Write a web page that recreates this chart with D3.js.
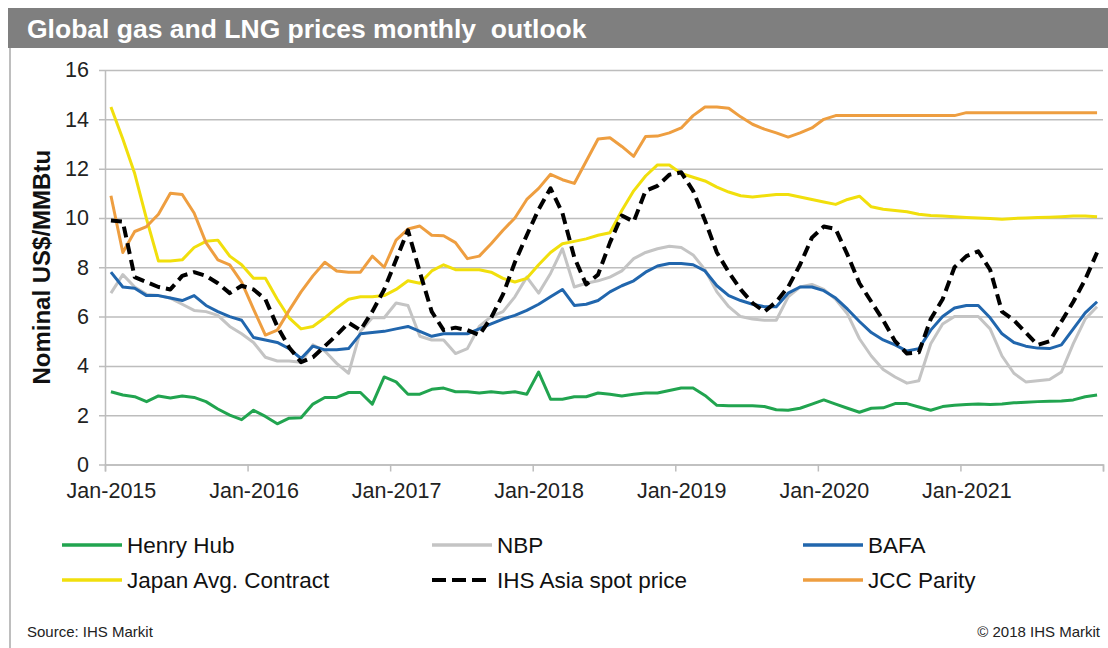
<!DOCTYPE html>
<html>
<head>
<meta charset="utf-8">
<script src="https://cdn.jsdelivr.net/npm/d3@7"></script>
<style>
  html, body { margin: 0; padding: 0; background: #fff; }
  svg { display: block; font-family: "Liberation Sans", Arial, Helvetica, sans-serif; }
</style>
</head>
<body>
<svg id="chart" width="1108" height="648"></svg>
<script>
// Monthly prices, Jan-2015 .. Dec-2021 (US$/MMBtu)
const tickLabels = ["Jan-2015", "Jan-2016", "Jan-2017", "Jan-2018", "Jan-2019", "Jan-2020", "Jan-2021"];
const yTicks = [0, 2, 4, 6, 8, 10, 12, 14, 16];

const henryHub = [
  2.95, 2.82, 2.75, 2.55, 2.78, 2.70, 2.78, 2.72, 2.55, 2.25, 2.00, 1.82,
  2.20, 1.95, 1.65, 1.88, 1.90, 2.45, 2.72, 2.72, 2.92, 2.92, 2.45, 3.55,
  3.35, 2.85, 2.85, 3.05, 3.10, 2.95, 2.95, 2.90, 2.95, 2.90, 2.95, 2.85,
  3.75, 2.65, 2.65, 2.75, 2.75, 2.90, 2.85, 2.78, 2.85, 2.90, 2.90, 3.00,
  3.10, 3.10, 2.80, 2.40, 2.38, 2.38, 2.38, 2.35, 2.22, 2.20, 2.28, 2.45,
  2.62, 2.45, 2.28, 2.12, 2.28, 2.30, 2.47, 2.47, 2.33, 2.20, 2.35, 2.40,
  2.43, 2.45, 2.43, 2.45, 2.50, 2.52, 2.55, 2.57, 2.58, 2.62, 2.75, 2.82
];
const nbp = [
  6.95, 7.70, 7.20, 6.90, 6.85, 6.75, 6.50, 6.25, 6.20, 6.05, 5.60, 5.30,
  4.95, 4.35, 4.20, 4.20, 4.15, 4.85, 4.60, 4.10, 3.70, 5.40, 5.95, 5.95,
  6.55, 6.45, 5.20, 5.05, 5.05, 4.50, 4.70, 5.60, 6.00, 6.20, 6.80, 7.60,
  6.95, 7.75, 8.75, 7.20, 7.35, 7.45, 7.60, 7.85, 8.35, 8.60, 8.75, 8.85,
  8.80, 8.50, 7.90, 7.00, 6.40, 6.00, 5.90, 5.85, 5.85, 6.80, 7.20, 7.30,
  7.10, 6.70, 6.10, 5.10, 4.40, 3.85, 3.55, 3.30, 3.40, 4.90, 5.70, 6.00,
  6.00, 6.00, 5.50, 4.40, 3.70, 3.35, 3.40, 3.45, 3.75, 4.90, 5.90, 6.40
];
const bafa = [
  7.80, 7.20, 7.15, 6.85, 6.85, 6.75, 6.65, 6.85, 6.45, 6.20, 6.00, 5.85,
  5.15, 5.05, 4.95, 4.70, 4.30, 4.80, 4.65, 4.65, 4.70, 5.30, 5.35, 5.40,
  5.50, 5.60, 5.40, 5.20, 5.30, 5.30, 5.30, 5.50, 5.70, 5.90, 6.05, 6.25,
  6.50, 6.80, 7.10, 6.45, 6.50, 6.65, 7.00, 7.25, 7.45, 7.80, 8.05, 8.15,
  8.15, 8.10, 7.85, 7.25, 6.85, 6.65, 6.50, 6.40, 6.40, 6.95, 7.20, 7.20,
  7.05, 6.75, 6.30, 5.80, 5.35, 5.05, 4.85, 4.60, 4.70, 5.45, 6.00, 6.35,
  6.45, 6.45, 5.95, 5.30, 4.95, 4.80, 4.72, 4.70, 4.85, 5.50, 6.15, 6.60
];
const japanContract = [
  14.50, 13.20, 11.80, 9.95, 8.25, 8.25, 8.30, 8.80, 9.05, 9.10, 8.45, 8.10,
  7.55, 7.55, 6.70, 5.95, 5.50, 5.60, 5.95, 6.35, 6.70, 6.80, 6.80, 6.85,
  7.10, 7.45, 7.35, 7.85, 8.10, 7.90, 7.90, 7.90, 7.80, 7.55, 7.40, 7.55,
  8.10, 8.60, 8.95, 9.05, 9.15, 9.30, 9.40, 10.30, 11.10, 11.70, 12.15, 12.15,
  11.80, 11.65, 11.50, 11.25, 11.05, 10.90, 10.85, 10.90, 10.95, 10.95, 10.85, 10.75,
  10.65, 10.55, 10.75, 10.88, 10.45, 10.35, 10.30, 10.25, 10.15, 10.10, 10.08, 10.05,
  10.02, 10.00, 9.98, 9.95, 9.98, 10.00, 10.02, 10.03, 10.05, 10.08, 10.08, 10.05
];
const ihsAsiaSpot = [
  9.90, 9.85, 7.60, 7.40, 7.20, 7.10, 7.65, 7.80, 7.65, 7.35, 6.95, 7.25,
  7.10, 6.70, 5.60, 4.75, 4.15, 4.35, 4.80, 5.25, 5.75, 5.45, 6.20, 7.10,
  8.30, 9.50, 7.80, 6.20, 5.45, 5.55, 5.45, 5.25, 5.95, 6.90, 8.20, 9.30,
  10.35, 11.20, 10.20, 8.40, 7.30, 7.70, 9.00, 10.10, 9.85, 11.10, 11.30, 11.75,
  11.85, 11.10, 9.90, 8.60, 7.80, 7.10, 6.55, 6.20, 6.60, 7.20, 8.10, 9.20,
  9.65, 9.55, 8.50, 7.35, 6.60, 5.85, 5.00, 4.50, 4.55, 5.90, 6.70, 8.00,
  8.45, 8.65, 7.90, 6.20, 5.85, 5.35, 4.85, 5.00, 5.80, 6.60, 7.50, 8.60
];
const jccParity = [
  10.90, 8.60, 9.45, 9.65, 10.15, 11.00, 10.95, 10.20, 9.00, 8.30, 8.10, 7.40,
  6.30, 5.25, 5.45, 6.25, 7.00, 7.65, 8.20, 7.85, 7.80, 7.80, 8.45, 8.00,
  9.10, 9.55, 9.67, 9.30, 9.28, 9.00, 8.35, 8.45, 8.95, 9.50, 10.00, 10.75,
  11.20, 11.77, 11.55, 11.40, 12.30, 13.20, 13.25, 12.90, 12.50, 13.30, 13.32, 13.45,
  13.65, 14.15, 14.50, 14.50, 14.45, 14.10, 13.80, 13.60, 13.45, 13.28, 13.45, 13.65,
  14.00, 14.15, 14.15, 14.15, 14.15, 14.15, 14.15, 14.15, 14.15, 14.15, 14.15, 14.15,
  14.27, 14.27, 14.27, 14.27, 14.27, 14.27, 14.27, 14.27, 14.27, 14.27, 14.27, 14.27
];

const seriesNames = ["Henry Hub", "NBP", "BAFA", "Japan Avg. Contract", "IHS Asia spot price", "JCC Parity"];
const seriesValues = [henryHub, nbp, bafa, japanContract, ihsAsiaSpot, jccParity];
const seriesColors = ["#21a44f", "#c4c4c4", "#2166ad", "#f1df0c", "#000000", "#ee9e40"];

const svg = d3.select("#chart");
const gridColor = "#bdbdbd";

// title banner and left frame rule
svg.append("rect")
  .attr("x", 8).attr("y", 8).attr("width", 1100).attr("height", 40)
  .attr("fill", "#7f7f7f");
svg.append("text")
  .attr("x", 27).attr("y", 38)
  .attr("fill", "#ffffff")
  .attr("font-size", 26.5).attr("font-weight", "bold")
  .attr("xml:space", "preserve")
  .text("Global gas and LNG prices monthly  outlook");
svg.append("line")
  .attr("x1", 10).attr("x2", 10).attr("y1", 48).attr("y2", 648)
  .attr("stroke", "#a8a8a8").attr("stroke-width", 1.5);

// plot area
const plot = { left: 105, right: 1103, top: 70, bottom: 464.5 };
const nMonths = henryHub.length;
const x = d3.scaleLinear().domain([0, nMonths]).range([plot.left, plot.right]);
const y = d3.scaleLinear().domain([0, 16]).range([plot.bottom, plot.top]);

// horizontal gridlines with y labels
const yAxis = svg.append("g")
  .attr("transform", `translate(${plot.left},0)`)
  .call(d3.axisLeft(y).tickValues(yTicks)
    .tickSizeInner(-(plot.right - plot.left)).tickSizeOuter(0).tickPadding(16));
yAxis.select(".domain").attr("stroke", gridColor).attr("stroke-width", 1.5);
yAxis.selectAll(".tick line")
  .attr("x1", -6)
  .attr("stroke", gridColor).attr("stroke-width", 1.5);
yAxis.selectAll(".tick text")
  .attr("font-size", 21.5).attr("fill", "#222")
  .attr("font-family", "Liberation Sans, Arial, sans-serif");

// x axis: year tick marks at category boundaries
const xMarks = svg.append("g")
  .attr("transform", `translate(0,${plot.bottom})`)
  .call(d3.axisBottom(x).tickValues(d3.range(0, nMonths + 1, 12))
    .tickSize(7).tickFormat(""));
xMarks.select(".domain").attr("stroke", gridColor).attr("stroke-width", 1.5);
xMarks.selectAll(".tick line").attr("stroke", gridColor).attr("stroke-width", 1.5);

// x labels centred on each January
const xLabels = svg.append("g")
  .attr("transform", `translate(0,${plot.bottom})`)
  .call(d3.axisBottom(x)
    .tickValues(tickLabels.map((_, k) => k * 12 + 0.5))
    .tickSize(0).tickPadding(18)
    .tickFormat((d, k) => tickLabels[k]));
xLabels.select(".domain").remove();
xLabels.selectAll(".tick text")
  .attr("font-size", 21.5).attr("fill", "#222")
  .attr("font-family", "Liberation Sans, Arial, sans-serif");

// y axis title
svg.append("text")
  .attr("transform", `translate(50,${(plot.top + plot.bottom) / 2}) rotate(-90)`)
  .attr("text-anchor", "middle")
  .attr("font-size", 24).attr("font-weight", "bold").attr("fill", "#111")
  .text("Nominal US$/MMBtu");

// series lines
const line = d3.line()
  .x((d, i) => x(i + 0.5))
  .y(d => y(d));
const drawOrder = [0, 1, 2, 3, 5, 4];
drawOrder.forEach(k => {
  const isDash = seriesNames[k] === "IHS Asia spot price";
  svg.append("path")
    .datum(seriesValues[k])
    .attr("d", line)
    .attr("fill", "none")
    .attr("stroke", seriesColors[k])
    .attr("stroke-width", isDash ? 4 : 3)
    .attr("stroke-dasharray", isDash ? "11,6" : null)
    .attr("stroke-linejoin", "round");
});

// legend: two rows of three
const legendCols = [62, 432, 803];
const legendRows = [545, 580];
const legend = svg.append("g");
seriesNames.forEach((name, k) => {
  const lx = legendCols[k % 3], ly = legendRows[Math.floor(k / 3)];
  const isDash = name === "IHS Asia spot price";
  legend.append("line")
    .attr("x1", lx).attr("x2", lx + 60).attr("y1", ly).attr("y2", ly)
    .attr("stroke", seriesColors[k])
    .attr("stroke-width", isDash ? 4 : 3.5)
    .attr("stroke-dasharray", isDash ? "14,6" : null);
  legend.append("text")
    .attr("x", lx + 65).attr("y", ly)
    .attr("dy", "0.35em")
    .attr("font-size", 22.5).attr("fill", "#111")
    .text(name);
});

// footer
svg.append("text")
  .attr("x", 27).attr("y", 637)
  .attr("font-size", 15).attr("fill", "#222")
  .text("Source: IHS Markit");
svg.append("text")
  .attr("x", 1100).attr("y", 637)
  .attr("text-anchor", "end")
  .attr("font-size", 15).attr("fill", "#222")
  .text("\u00A9 2018 IHS Markit");
</script>
</body>
</html>
